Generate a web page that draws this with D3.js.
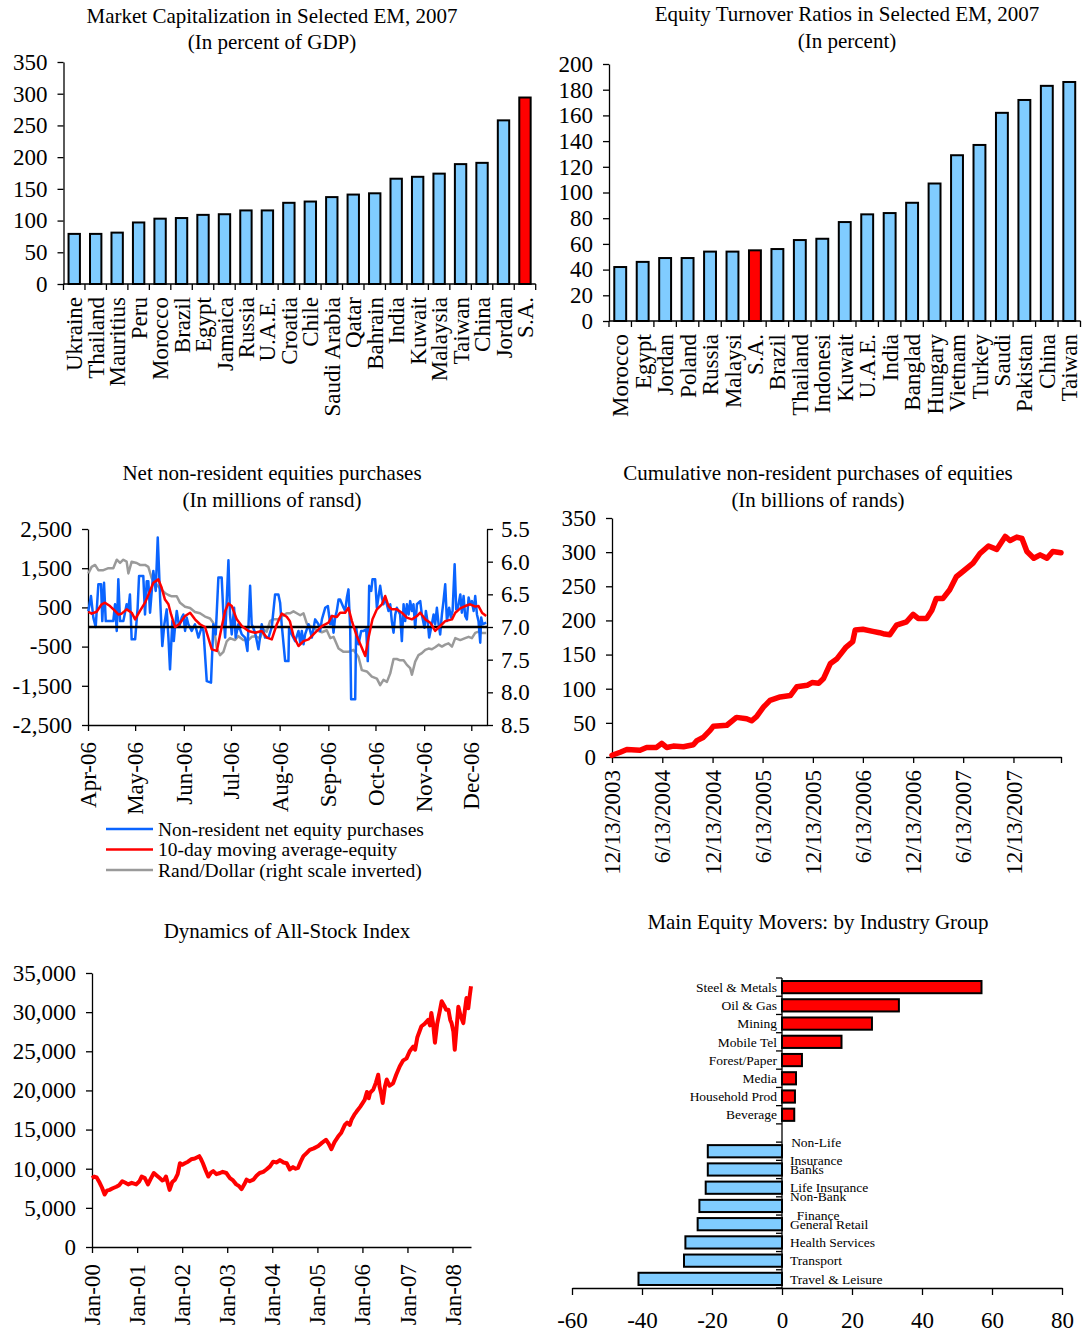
<!DOCTYPE html>
<html><head><meta charset="utf-8">
<script src="https://cdn.jsdelivr.net/npm/d3@7/dist/d3.min.js"></script>
<style>
html,body{margin:0;padding:0;background:#fff;}
svg{display:block;}
svg text{font-family:"Liberation Serif","Times New Roman",Times,serif;fill:#000;}
</style></head><body>
<svg id="chart" width="1084" height="1334"></svg>
<script>
// ---------------- DATA ----------------
// Panel 1: Market capitalization (% of GDP)
const mcCountries = ["Ukraine","Thailand","Mauritius","Peru","Morocco","Brazil","Egypt","Jamaica","Russia","U.A.E.","Croatia","Chile","Saudi Arabia","Qatar","Bahrain","India","Kuwait","Malaysia","Taiwan","China","Jordan","S.A."];
const mcValues = [79,79,81,97,103,104,109,110,116,116,128,130,137,141,143,166,169,174,189,191,258,294];
const mcTicks = [0,50,100,150,200,250,300,350];
const mcTitle = ["Market Capitalization in Selected EM, 2007","(In percent of GDP)"];

// Panel 2: Equity turnover ratios (%)
const toCountries = ["Morocco","Egypt","Jordan","Poland","Russia","Malaysi","S.A.","Brazil","Thailand","Indonesi","Kuwait","U.A.E.","India","Banglad","Hungary","Vietnam","Turkey","Saudi","Pakistan","China","Taiwan"];
const toValues = [42,46,49,49,54,54,55,56,63,64,77,83,84,92,107,129,137,162,172,183,186];
const toTicks = [0,20,40,60,80,100,120,140,160,180,200];
const toTitle = ["Equity Turnover Ratios in Selected EM, 2007","(In percent)"];

const highlightCountry = "S.A.";

// Panel 3: Net non-resident equity purchases, Apr-Dec 2006  ([days after 1 Apr 2006, value])
const nrStart = "2006-04-01";
const nrEnd = "2006-12-11";
const nrNetPurchases = [[0.2,400],[1.9,790],[3.4,240],[4.9,0],[6.6,1090],[8.3,1090],[9.1,150],[10.2,1130],[11.3,150],[16.1,150],[17.2,580],[18.3,-100],[19.3,1215],[20.4,150],[22.5,150],[24.6,580],[25.7,450],[26.7,830],[27.8,-315],[30.0,-315],[31.6,490],[32.5,1300],[35.2,1300],[36.3,320],[37.4,1170],[38.4,1170],[39.5,365],[41.6,1430],[43.1,920],[44.4,2280],[45.9,750],[47.3,-485],[48.6,70],[50.1,450],[51.2,-270],[52.2,-1080],[53.7,150],[54.6,-360],[55.4,0],[56.5,410],[58.0,0],[59.7,240],[60.7,320],[61.8,-100],[62.8,240],[63.9,70],[66.0,-100],[68.1,70],[70.3,-270],[72.4,0],[73.5,-100],[75.6,-1380],[78.3,-1420],[79.8,70],[81.3,-190],[83.0,1260],[85.1,1260],[86.2,320],[87.3,-270],[89.4,1700],[90.4,320],[91.5,-190],[93.0,490],[94.0,-270],[95.7,70],[97.9,-190],[100.0,-270],[101.5,-610],[103.2,1050],[104.2,70],[106.4,-145],[108.5,-570],[110.6,70],[112.7,-270],[114.9,-270],[117.0,0],[119.1,830],[121.2,830],[122.3,620],[123.3,70],[125.5,-870],[127.6,-870],[128.0,-20],[129.7,-190],[131.9,-360],[134.0,-100],[135.1,-400],[136.1,-100],[137.2,-440],[138.2,-190],[140.4,70],[142.5,-270],[144.6,195],[146.7,70],[147.8,-100],[148.9,195],[151.0,490],[152.7,535],[154.2,70],[155.2,280],[156.3,-145],[157.3,240],[158.4,410],[159.5,700],[160.5,700],[162.7,490],[163.7,410],[164.8,750],[165.8,960],[166.9,-20],[167.5,-1845],[170.1,-1845],[170.7,-20],[172.2,-440],[173.9,-100],[175.4,-100],[177.1,-60],[178.1,-870],[179.0,1050],[180.3,920],[181.1,1215],[182.8,1215],[183.9,490],[185.0,790],[186.0,1050],[187.1,750],[188.1,580],[189.2,750],[191.3,410],[192.4,580],[193.4,150],[194.5,-145],[195.6,320],[196.6,490],[198.7,320],[199.8,-360],[200.9,580],[201.9,150],[203.0,580],[204.1,320],[205.1,660],[206.2,410],[207.2,580],[208.3,-20],[209.4,580],[211.5,660],[212.5,320],[214.2,-20],[215.1,410],[216.4,70],[217.2,-270],[218.9,70],[220.0,320],[221.0,70],[222.1,490],[223.2,70],[224.2,-190],[225.3,320],[226.3,660],[227.4,1090],[228.5,150],[229.9,490],[231.0,240],[232.1,410],[233.4,1600],[234.4,450],[235.5,490],[237.0,830],[238.0,365],[239.1,790],[240.1,280],[241.2,195],[242.3,750],[243.3,580],[244.4,660],[245.5,410],[246.5,790],[247.6,320],[248.6,150],[249.7,-400],[250.3,240],[251.2,70],[253.5,110]];
const nrMovingAvg = [[0.2,390],[2.3,340],[5.5,390],[8.7,580],[10.8,620],[14.0,535],[17.2,410],[19.3,320],[21.4,340],[24.6,450],[27.8,365],[30.0,195],[33.1,410],[36.3,620],[39.5,920],[41.6,1130],[44.8,1215],[46.9,1000],[49.0,700],[51.2,580],[52.9,320],[55.4,0],[58.0,70],[61.8,280],[65.0,365],[68.1,195],[71.3,70],[74.5,0],[78.8,-570],[82.0,-610],[85.1,0],[87.3,410],[89.4,600],[91.5,535],[94.7,195],[97.9,25],[102.1,-100],[106.4,-145],[110.6,-100],[113.8,-270],[117.0,-315],[120.2,70],[123.3,340],[126.5,260],[128.5,150],[130.8,-230],[134.0,-485],[137.2,-360],[140.4,-315],[144.6,-145],[148.9,25],[153.1,110],[155.2,280],[158.4,255],[160.5,365],[163.7,365],[165.8,490],[168.0,150],[171.1,-230],[174.3,-530],[176.5,-740],[178.6,-270],[181.1,195],[183.9,450],[187.1,580],[189.2,790],[191.3,535],[193.4,450],[196.6,450],[199.8,365],[203.0,240],[206.2,195],[209.4,280],[211.5,365],[214.7,195],[217.9,110],[221.0,-100],[224.2,25],[227.4,150],[231.7,195],[233.8,365],[237.0,475],[240.1,535],[243.3,580],[246.5,520],[248.6,535],[250.8,365],[253.5,280]];
const nrRandDollar = [[0.2,6.18],[2.3,6.08],[4.5,6.05],[6.6,6.13],[9.8,6.13],[13.0,6.10],[16.1,6.10],[18.3,5.97],[20.4,6.02],[22.5,5.97],[24.6,6.00],[25.7,6.18],[27.8,6.00],[31.0,6.02],[33.1,6.05],[36.3,6.05],[38.4,6.08],[40.5,6.25],[42.7,6.33],[45.9,6.41],[49.0,6.48],[51.2,6.51],[53.3,6.53],[56.5,6.53],[58.6,6.63],[61.8,6.69],[65.0,6.71],[68.1,6.77],[71.3,6.79],[74.5,6.84],[77.7,6.87],[79.8,6.94],[82.0,7.33],[84.1,7.43],[86.2,7.38],[88.3,7.22],[90.4,7.17],[93.6,7.20],[95.7,7.14],[98.9,7.20],[102.1,7.20],[104.2,7.15],[106.4,7.14],[109.5,7.17],[111.7,7.04],[113.8,7.07],[115.9,6.91],[118.0,6.88],[121.2,6.88],[123.3,6.84],[126.5,6.79],[128.7,6.79],[130.8,6.76],[132.9,6.79],[135.1,6.82],[137.2,6.79],[139.3,6.95],[142.5,7.00],[145.7,7.05],[148.9,7.08],[152.0,7.05],[154.2,7.17],[156.3,7.15],[159.5,7.33],[162.7,7.38],[165.8,7.38],[169.0,7.35],[172.2,7.46],[174.3,7.66],[177.5,7.68],[180.7,7.76],[183.9,7.79],[186.0,7.89],[188.1,7.81],[190.3,7.84],[192.4,7.71],[194.5,7.49],[196.6,7.49],[198.7,7.51],[200.9,7.51],[203.0,7.58],[205.1,7.63],[206.2,7.73],[208.3,7.53],[210.4,7.43],[212.5,7.40],[214.7,7.35],[216.8,7.33],[218.9,7.34],[221.0,7.31],[223.2,7.27],[225.3,7.30],[227.4,7.27],[229.5,7.25],[231.7,7.30],[233.8,7.17],[237.0,7.20],[240.1,7.17],[242.3,7.15],[244.4,7.17],[246.5,7.09],[248.6,7.07],[250.8,7.09],[253.5,7.09]];
const nrLeftTicks = [-2500,-1500,-500,500,1500,2500];
const nrRightTicks = [5.5,6.0,6.5,7.0,7.5,8.0,8.5];
const nrLegend = ["Non-resident net equity purchases","10-day moving average-equity","Rand/Dollar (right scale inverted)"];
const nrTitle = ["Net non-resident equities purchases","(In millions of ransd)"];

// Panel 4: Cumulative non-resident purchases (billions of rands)
const cumData = [["2003-12-13",2.5],["2004-01-12",7],["2004-02-05",11],["2004-03-24",10],["2004-04-17",14],["2004-05-23",14],["2004-06-11",20],["2004-06-29",14],["2004-07-23",16],["2004-08-29",15],["2004-10-04",18],["2004-10-17",24],["2004-11-10",29],["2004-12-04",39],["2004-12-16",45],["2005-02-03",46.5],["2005-03-10",58],["2005-04-16",56],["2005-05-04",53],["2005-05-22",59],["2005-06-16",73],["2005-07-10",83],["2005-08-16",88],["2005-09-22",90],["2005-10-16",103],["2005-11-22",105],["2005-12-10",109],["2006-01-03",108],["2006-01-21",115],["2006-02-15",137],["2006-03-11",144],["2006-04-13",161],["2006-05-07",169],["2006-05-16",186],["2006-06-13",187],["2006-07-19",184],["2006-08-13",182],["2006-08-31",180],["2006-09-19",179],["2006-10-13",193],["2006-11-19",198],["2006-12-13",209],["2006-12-31",203],["2007-01-31",203],["2007-02-19",215],["2007-03-07",232],["2007-03-31",232],["2007-04-25",245],["2007-05-19",264],["2007-06-13",272],["2007-07-19",284],["2007-08-13",298],["2007-09-13",309],["2007-10-13",304],["2007-11-13",323],["2007-12-01",317],["2007-12-25",322],["2008-01-13",320],["2008-01-31",301],["2008-02-25",291],["2008-03-19",296],["2008-04-13",291],["2008-05-04",301],["2008-06-03",299]];
const cumTickDates = ["2003-12-13","2004-06-13","2004-12-13","2005-06-13","2005-12-13","2006-06-13","2006-12-13","2007-06-13","2007-12-13"];
const cumTicks = [0,50,100,150,200,250,300,350];
const cumTitle = ["Cumulative non-resident purchases of equities","(In billions of rands)"];

// Panel 5: All-Stock index ([decimal year, level])
const alsiData = [[2000.00,8800],[2000.05,9000],[2000.10,8900],[2000.17,8200],[2000.22,7600],[2000.28,6700],[2000.33,7200],[2000.39,7300],[2000.46,7500],[2000.54,7700],[2000.60,7900],[2000.67,8400],[2000.74,8200],[2000.80,8000],[2000.88,8200],[2000.98,8000],[2001.05,8400],[2001.10,9000],[2001.17,8800],[2001.24,8000],[2001.30,8700],[2001.37,9450],[2001.44,9100],[2001.50,8800],[2001.56,8500],[2001.60,8600],[2001.64,9000],[2001.72,7300],[2001.78,8300],[2001.84,8600],[2001.90,9300],[2001.95,10700],[2002.00,10500],[2002.06,10700],[2002.13,10900],[2002.20,11200],[2002.28,11300],[2002.38,11600],[2002.42,11200],[2002.46,10700],[2002.52,9800],[2002.58,9000],[2002.64,9500],[2002.69,9700],[2002.76,9300],[2002.84,9450],[2002.90,9600],[2002.98,9450],[2003.06,8800],[2003.13,8500],[2003.20,8000],[2003.26,7800],[2003.32,7400],[2003.38,8000],[2003.43,8600],[2003.50,8400],[2003.58,8600],[2003.65,9100],[2003.72,9450],[2003.80,9600],[2003.87,9900],[2003.95,10300],[2004.02,10900],[2004.10,10800],[2004.17,11100],[2004.25,10800],[2004.32,10700],[2004.39,9900],[2004.46,10200],[2004.52,10000],[2004.57,10100],[2004.63,10900],[2004.69,11600],[2004.76,12000],[2004.83,12400],[2004.92,12600],[2005.02,12900],[2005.10,13300],[2005.19,13700],[2005.25,13200],[2005.31,12500],[2005.38,13400],[2005.46,14100],[2005.53,14600],[2005.61,15600],[2005.66,15900],[2005.72,15600],[2005.76,16300],[2005.82,16900],[2005.87,17300],[2005.95,17900],[2006.05,18800],[2006.10,19800],[2006.14,19000],[2006.17,19700],[2006.24,20100],[2006.30,21000],[2006.35,22000],[2006.38,20500],[2006.42,19500],[2006.45,18400],[2006.50,20500],[2006.54,21400],[2006.60,20600],[2006.68,20900],[2006.75,22000],[2006.83,23100],[2006.90,23800],[2006.98,24100],[2007.05,25000],[2007.13,25600],[2007.17,25200],[2007.22,26800],[2007.31,28200],[2007.38,28500],[2007.46,29000],[2007.50,28300],[2007.53,29900],[2007.57,28500],[2007.61,26100],[2007.66,28500],[2007.72,30200],[2007.76,31400],[2007.82,30800],[2007.86,30300],[2007.91,30300],[2007.95,29000],[2007.98,28600],[2008.02,27500],[2008.05,25200],[2008.09,28000],[2008.13,30700],[2008.18,29500],[2008.24,28600],[2008.28,30500],[2008.31,31800],[2008.35,30500],[2008.38,32000],[2008.41,33300]];
const alsiTicks = [0,5000,10000,15000,20000,25000,30000,35000];
const alsiYears = [2000,2001,2002,2003,2004,2005,2006,2007,2008];
const alsiTitle = ["Dynamics of All-Stock Index"];

// Panel 6: Main equity movers by industry group
const moverGroups = ["Steel & Metals","Oil & Gas","Mining","Mobile Tel","Forest/Paper","Media","Household Prod","Beverage"," ","Non-Life\nInsurance","Banks","Life Insurance","Non-Bank\nFinance","General Retail","Health Services","Transport","Travel & Leisure"];
const moverValues = [57,33.4,25.7,17,5.7,4,3.7,3.5,null,-21.2,-21.2,-21.8,-23.6,-24.1,-27.6,-28,-41];
const moverTicks = [-60,-40,-20,0,20,40,60,80];
const moverTitle = ["Main Equity Movers: by Industry Group"];

// ---------------- DRAWING ----------------
const svg = d3.select("#chart");
const FONT = '"Liberation Serif","Times New Roman",Times,serif';
const BAR_BLUE = "#80ccff", RED = "#ff0000", LINE_BLUE = "#0a64ff", GRAY = "#9a9a9a";
const TICK_FS = 23, CAT_FS = 23, TITLE_FS = 21;
const fixMinus = s => s.replace(/\u2212/g, "-");
const parseDate = d3.timeParse("%Y-%m-%d");

function addTitle(lines, cx, ys) {
  lines.forEach((t, i) => svg.append("text").attr("x", cx).attr("y", ys[i])
    .attr("text-anchor", "middle").attr("dy", "0.35em").style("font-size", TITLE_FS + "px").text(t));
}
function styleAxis(g) {
  g.attr("font-family", FONT).attr("font-size", TICK_FS);
  g.selectAll(".domain").attr("stroke", "#000").attr("stroke-width", 1.3);
  g.selectAll(".tick line").attr("stroke", "#000").attr("stroke-width", 1.3);
}
function rotLabels(items, xf, yTop, fmt) {
  svg.append("g").selectAll("text").data(items).join("text")
    .attr("transform", d => `translate(${xf(d)},${yTop}) rotate(-90)`)
    .attr("text-anchor", "end").attr("dy", "0.35em").style("font-size", CAT_FS + "px")
    .text(fmt);
}

function barPanel(cats, vals, ticks, box, labelGap) {
  const x = d3.scaleBand().domain(cats).range([box.x0, box.x1]).paddingInner(0.47).paddingOuter(0.235);
  const y = d3.scaleLinear().domain([0, d3.max(ticks)]).range([box.yb, box.yt]);
  svg.append("g").attr("transform", `translate(${box.x0},0)`)
    .call(d3.axisLeft(y).tickValues(ticks).tickSize(6).tickSizeOuter(0).tickPadding(10)).call(styleAxis);
  svg.append("g").selectAll("rect").data(cats).join("rect")
    .attr("x", d => x(d)).attr("width", x.bandwidth())
    .attr("y", (d, i) => y(vals[i])).attr("height", (d, i) => y(0) - y(vals[i]))
    .attr("fill", d => d === highlightCountry ? RED : BAR_BLUE)
    .attr("stroke", "#000").attr("stroke-width", 2);
  const g = svg.append("g");
  g.append("line").attr("x1", box.x0).attr("x2", box.x1).attr("y1", y(0)).attr("y2", y(0)).attr("stroke", "#000").attr("stroke-width", 1.3);
  const bounds = cats.map(c => x(c) - x.step() * x.paddingInner() / 2).concat([box.x1]);
  g.selectAll("line.b").data(bounds).join("line").attr("class", "b")
    .attr("x1", d => d).attr("x2", d => d).attr("y1", y(0)).attr("y2", y(0) + 6)
    .attr("stroke", "#000").attr("stroke-width", 1.3);
  rotLabels(cats, d => x(d) + x.bandwidth() / 2, y(0) + labelGap, d => d);
}

// Panel 1
addTitle(mcTitle, 272, [16, 42]);
barPanel(mcCountries, mcValues, mcTicks, {x0: 63.5, x1: 535.7, yb: 284, yt: 62}, 13);

// Panel 2
addTitle(toTitle, 847, [14, 41]);
barPanel(toCountries, toValues, toTicks, {x0: 609, x1: 1080.5, yb: 321, yt: 64}, 13);

// Panel 3
(function () {
  addTitle(nrTitle, 272, [473, 500]);
  const base = parseDate(nrStart);
  const dayToDate = d => new Date(base.getTime() + d * 864e5);
  const x = d3.scaleTime().domain([base, parseDate(nrEnd)]).range([88, 487]);
  const y = d3.scaleLinear().domain([-2500, 2500]).range([725, 529]);
  const yr = d3.scaleLinear().domain([5.5, 8.5]).range([529, 725]);
  svg.append("g").attr("transform", "translate(88,0)")
    .call(d3.axisLeft(y).tickValues(nrLeftTicks).tickSize(6).tickSizeOuter(0).tickPadding(10)
      .tickFormat(d => fixMinus(d3.format(",")(d)))).call(styleAxis);
  svg.append("g").attr("transform", "translate(487,0)")
    .call(d3.axisRight(yr).tickValues(nrRightTicks).tickSize(6).tickSizeOuter(0).tickPadding(8)
      .tickFormat(d3.format(".1f"))).call(styleAxis);
  const months = d3.timeMonth.range(base, parseDate(nrEnd));
  svg.append("g").attr("transform", "translate(0,725)")
    .call(d3.axisBottom(x).tickValues(months).tickSize(6).tickSizeOuter(0).tickFormat("")).call(styleAxis);
  rotLabels(months, d => x(d), 742, d3.timeFormat("%b-%y"));

  const lineL = d3.line().x(d => x(dayToDate(d[0]))).y(d => y(d[1]));
  const lineR = d3.line().x(d => x(dayToDate(d[0]))).y(d => yr(d[1]));
  svg.append("path").datum(nrRandDollar).attr("d", lineR).attr("fill", "none").attr("stroke", GRAY).attr("stroke-width", 2.5).attr("stroke-linejoin", "round");
  svg.append("path").datum(nrNetPurchases).attr("d", lineL).attr("fill", "none").attr("stroke", LINE_BLUE).attr("stroke-width", 2.5).attr("stroke-linejoin", "round");
  svg.append("line").attr("x1", 88).attr("x2", 487).attr("y1", y(0)).attr("y2", y(0)).attr("stroke", "#000").attr("stroke-width", 2.5);
  svg.append("path").datum(nrMovingAvg).attr("d", lineL).attr("fill", "none").attr("stroke", RED).attr("stroke-width", 2.5).attr("stroke-linejoin", "round");

  const colors = [LINE_BLUE, RED, GRAY];
  const lg = svg.append("g");
  nrLegend.forEach((t, i) => {
    const yy = 829 + i * 20.5;
    lg.append("line").attr("x1", 106).attr("x2", 153).attr("y1", yy).attr("y2", yy).attr("stroke", colors[i]).attr("stroke-width", 2.5);
    lg.append("text").attr("x", 158).attr("y", yy).attr("dy", "0.35em").style("font-size", "19.5px").text(t);
  });
})();

// Panel 4
(function () {
  addTitle(cumTitle, 818, [473, 500]);
  const x = d3.scaleTime().domain([parseDate(cumData[0][0]), parseDate(cumData[cumData.length - 1][0])]).range([612, 1061]);
  const y = d3.scaleLinear().domain([0, 350]).range([757, 518]);
  svg.append("g").attr("transform", "translate(612,0)")
    .call(d3.axisLeft(y).tickValues(cumTicks).tickSize(6).tickSizeOuter(0).tickPadding(10)).call(styleAxis);
  const tds = cumTickDates.map(parseDate);
  svg.append("g").attr("transform", "translate(0,757)")
    .call(d3.axisBottom(x).tickValues(tds.concat([x.domain()[1]])).tickSize(6).tickSizeOuter(0).tickFormat("")).call(styleAxis);
  rotLabels(tds, d => x(d), 770, d3.timeFormat("%-m/%-d/%Y"));
  svg.append("path").datum(cumData)
    .attr("d", d3.line().x(d => x(parseDate(d[0]))).y(d => y(d[1])))
    .attr("fill", "none").attr("stroke", RED).attr("stroke-width", 5.5).attr("stroke-linejoin", "round").attr("stroke-linecap", "round");
})();

// Panel 5
(function () {
  addTitle(alsiTitle, 287, [931]);
  const yearToDate = v => { const yr = Math.floor(v); const s = new Date(yr, 0, 1), e = new Date(yr + 1, 0, 1); return new Date(+s + (v - yr) * (e - s)); };
  const x = d3.scaleTime().domain([yearToDate(alsiData[0][0]), yearToDate(alsiData[alsiData.length - 1][0])]).range([92, 471]);
  const y = d3.scaleLinear().domain([0, 35000]).range([1247, 973]);
  svg.append("g").attr("transform", "translate(92,0)")
    .call(d3.axisLeft(y).tickValues(alsiTicks).tickSize(6).tickSizeOuter(0).tickPadding(10).tickFormat(d3.format(","))).call(styleAxis);
  const yrs = alsiYears.map(v => new Date(v, 0, 1));
  svg.append("g").attr("transform", "translate(0,1247)")
    .call(d3.axisBottom(x).tickValues(yrs).tickSize(6).tickSizeOuter(0).tickFormat("")).call(styleAxis);
  rotLabels(yrs, d => x(d), 1264, d3.timeFormat("%b-%y"));
  svg.append("path").datum(alsiData)
    .attr("d", d3.line().x(d => x(yearToDate(d[0]))).y(d => y(d[1])))
    .attr("fill", "none").attr("stroke", RED).attr("stroke-width", 4).attr("stroke-linejoin", "round");
})();

// Panel 6
(function () {
  addTitle(moverTitle, 818, [922]);
  const x = d3.scaleLinear().domain([-60, 80]).range([572, 1062]);
  const y = d3.scaleBand().domain(moverGroups).range([978, 1288]).paddingInner(0.33).paddingOuter(0.165);
  svg.append("g").attr("transform", "translate(0,1288)")
    .call(d3.axisBottom(x).tickValues(moverTicks).tickSize(7).tickSizeOuter(0).tickPadding(17)
      .tickFormat(d => fixMinus(d3.format("d")(d)))).call(styleAxis);
  const rows = moverGroups.map((g, i) => ({g, v: moverValues[i]})).filter(d => d.v !== null);
  svg.append("g").selectAll("rect").data(rows).join("rect")
    .attr("x", d => x(Math.min(0, d.v))).attr("width", d => Math.abs(x(d.v) - x(0)))
    .attr("y", d => y(d.g)).attr("height", y.bandwidth())
    .attr("fill", d => d.v > 0 ? RED : BAR_BLUE).attr("stroke", "#000").attr("stroke-width", 2);
  const g = svg.append("g");
  g.append("line").attr("x1", x(0)).attr("x2", x(0)).attr("y1", 978).attr("y2", 1288).attr("stroke", "#000").attr("stroke-width", 1.3);
  const bounds = moverGroups.map(c => y(c) - y.step() * y.paddingInner() / 2).concat([1288]);
  g.selectAll("line.b").data(bounds).join("line").attr("class", "b")
    .attr("x1", x(0) - 6).attr("x2", x(0)).attr("y1", d => d).attr("y2", d => d)
    .attr("stroke", "#000").attr("stroke-width", 1.3);
  rows.forEach(d => {
    const cy = y(d.g) + y.bandwidth() / 2;
    const lines = d.g.split("\n");
    if (d.v > 0) {
      svg.append("text").attr("x", x(0) - 5).attr("y", cy).attr("dy", "0.35em").attr("text-anchor", "end").style("font-size", "13.5px").text(d.g);
    } else {
      const ts = lines.map((t, i) => svg.append("text").attr("y", cy + (i - (lines.length - 1) / 2) * 18.5).attr("dy", "0.35em").style("font-size", "13.5px").text(t));
      const widths = ts.map(t => t.node().getComputedTextLength());
      const w = d3.max(widths);
      ts.forEach(t => t.attr("x", x(0) + 8 + w / 2).attr("text-anchor", "middle"));
    }
  });
})();
</script>
</body></html>
